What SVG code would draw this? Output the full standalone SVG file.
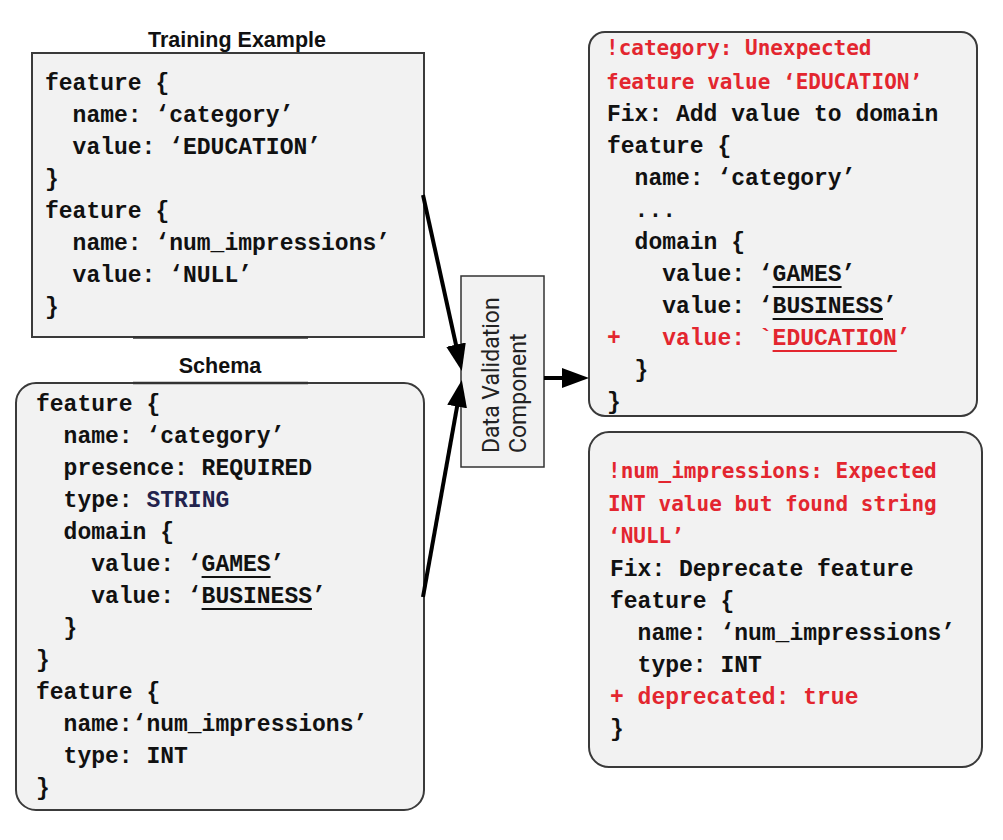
<svg xmlns="http://www.w3.org/2000/svg" width="1003" height="840" viewBox="0 0 1003 840">
<style>
.box{fill:#f2f2f2;stroke:#3a3a3a;stroke-width:2}
.code{font-family:"Liberation Mono","Courier New",monospace;font-weight:bold;font-size:23px;fill:#111}
.red{font-family:"DejaVu Sans Mono",monospace;font-weight:bold;font-size:21px;fill:#e3262f}
.redc{fill:#e3262f}
.title{font-family:"Liberation Sans",Arial,sans-serif;font-weight:bold;font-size:21.5px;fill:#111;text-anchor:middle}
.ul{stroke:#111;stroke-width:2}
.ulr{stroke:#e3262f;stroke-width:2}
.conn{stroke:#000;stroke-width:4;fill:none}
.dv{font-family:Roboto,"Liberation Sans",sans-serif;font-size:23px;fill:#222}
</style>
<defs>
<marker id="ah" markerUnits="userSpaceOnUse" markerWidth="28" markerHeight="22" refX="20" refY="10" orient="auto">
<path d="M0,0 L27,10 L0,20 z" fill="#000"/>
</marker>
</defs>
<rect width="1003" height="840" fill="#fff"/>

<g id="training-example">
<text class="title" x="237" y="47">Training Example</text>
<rect class="box" x="32" y="53" width="392" height="284"/>
<line x1="133" y1="337.5" x2="308" y2="337.5" stroke="#333" stroke-width="2.5"/>
<text class="code" x="45" y="90">feature {</text>
<text class="code" x="72.6" y="122">name: ‘category’</text>
<text class="code" x="72.6" y="154">value: ‘EDUCATION’</text>
<text class="code" x="45" y="186">}</text>
<text class="code" x="45" y="218">feature {</text>
<text class="code" x="72.6" y="250">name: ‘num_impressions’</text>
<text class="code" x="72.6" y="282">value: ‘NULL’</text>
<text class="code" x="45" y="314">}</text>
</g>

<g id="schema">
<text class="title" x="220" y="373">Schema</text>
<rect class="box" x="16" y="383" width="408" height="427" rx="20" ry="20"/>
<line x1="133" y1="383" x2="308" y2="383" stroke="#333" stroke-width="2.5"/>
<text class="code" x="36" y="411">feature {</text>
<text class="code" x="63.6" y="443">name: ‘category’</text>
<text class="code" x="63.6" y="475">presence: REQUIRED</text>
<text class="code" x="63.6" y="507">type: <tspan fill="#23234d">STRING</tspan></text>
<text class="code" x="63.6" y="539">domain {</text>
<text class="code" x="91.2" y="571">value: ‘GAMES’</text>
<line class="ul" x1="201.6" y1="577" x2="270.6" y2="577"/>
<text class="code" x="91.2" y="603">value: ‘BUSINESS’</text>
<line class="ul" x1="201.6" y1="609" x2="312" y2="609"/>
<text class="code" x="63.6" y="635">}</text>
<text class="code" x="36" y="667">}</text>
<text class="code" x="36" y="699">feature {</text>
<text class="code" x="63.6" y="731">name:‘num_impressions’</text>
<text class="code" x="63.6" y="763">type: INT</text>
<text class="code" x="36" y="795">}</text>
</g>

<g id="data-validation">
<rect x="461" y="276" width="83" height="191" fill="#f2f2f2" stroke="#333" stroke-width="1.5"/>
<text class="dv" transform="translate(499,453) rotate(-90)">Data Validation</text>
<text class="dv" transform="translate(526,453) rotate(-90)">Component</text>
</g>

<g id="anomaly-category">
<rect class="box" x="589" y="32" width="388" height="384" rx="16" ry="16"/>
<text class="red" x="606" y="55">!category: Unexpected</text>
<text class="red" x="606" y="89">feature value ‘EDUCATION’</text>
<text class="code" x="607" y="121">Fix: Add value to domain</text>
<text class="code" x="607" y="153">feature {</text>
<text class="code" x="634.6" y="185">name: ‘category’</text>
<text class="code" x="634.6" y="217">...</text>
<text class="code" x="634.6" y="249">domain {</text>
<text class="code" x="662.2" y="281">value: ‘GAMES’</text>
<line class="ul" x1="772.6" y1="287" x2="841.6" y2="287"/>
<text class="code" x="662.2" y="313">value: ‘BUSINESS’</text>
<line class="ul" x1="772.6" y1="319" x2="883" y2="319"/>
<text class="code redc" x="607" y="345">+</text>
<text class="code redc" x="662.2" y="345">value: `EDUCATION’</text>
<line class="ulr" x1="772.6" y1="351" x2="896.8" y2="351"/>
<text class="code" x="634.6" y="377">}</text>
<text class="code" x="607" y="409">}</text>
</g>

<g id="anomaly-num-impressions">
<rect class="box" x="589" y="432" width="393" height="335" rx="20" ry="20"/>
<text class="red" x="608" y="478">!num_impressions: Expected</text>
<text class="red" x="608" y="511">INT value but found string</text>
<text class="red" x="608" y="543">‘NULL’</text>
<text class="code" x="610" y="576">Fix: Deprecate feature</text>
<text class="code" x="610" y="608">feature {</text>
<text class="code" x="637.6" y="640">name: ‘num_impressions’</text>
<text class="code" x="637.6" y="672">type: INT</text>
<text class="code redc" x="610" y="704">+ deprecated: true</text>
<text class="code" x="610" y="736">}</text>
</g>

<g id="connectors">
<line class="conn" x1="423" y1="195" x2="460.3" y2="364.2" marker-end="url(#ah)"/>
<line class="conn" x1="423" y1="597" x2="460.6" y2="386.9" marker-end="url(#ah)"/>
<line class="conn" x1="544" y1="378" x2="582" y2="378" marker-end="url(#ah)"/>
</g>
</svg>
